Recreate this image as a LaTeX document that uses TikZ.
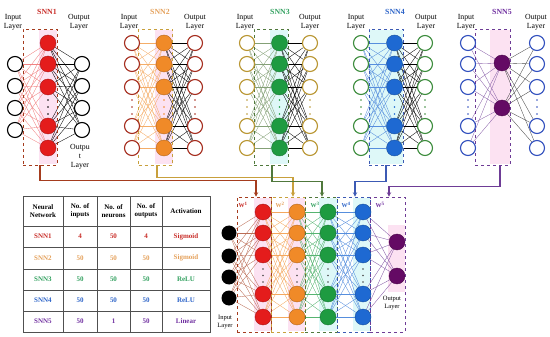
\documentclass[tikz,border=0pt]{standalone}
\usepackage{fontspec}
\setmainfont{Liberation Serif}
\usetikzlibrary{arrows.meta,calc}
\pgfdeclarelayer{wash}
\pgfdeclarelayer{bg}
\pgfsetlayers{wash,bg,main}
\definecolor{cred}{RGB}{228,28,28}
\definecolor{corange}{RGB}{240,138,40}
\definecolor{cgreen}{RGB}{30,155,65}
\definecolor{cblue}{RGB}{30,105,210}
\definecolor{cpurple}{RGB}{100,10,100}
\definecolor{tred}{RGB}{200,45,40}
\definecolor{torange}{RGB}{228,160,90}
\definecolor{tgreen}{RGB}{50,160,95}
\definecolor{tblue}{RGB}{45,100,200}
\definecolor{tpurple}{RGB}{112,48,160}
\definecolor{cbrown}{RGB}{165,45,30}
\definecolor{cgold}{RGB}{185,150,50}
\definecolor{cdgreen}{RGB}{60,140,60}
\definecolor{cnavy}{RGB}{50,80,190}
\definecolor{kone}{RGB}{165,60,30}
\definecolor{ktwo}{RGB}{200,160,60}
\definecolor{kthree}{RGB}{80,120,60}
\definecolor{kfour}{RGB}{60,90,180}
\definecolor{kfive}{RGB}{110,60,150}
\definecolor{tblline}{RGB}{80,80,80}
\definecolor{wpink}{RGB}{252,226,242}
\definecolor{wcyan}{RGB}{222,248,248}
\newcommand\mysnn[8]{%
  \node[netbox=#8, minimum width=34pt, minimum height=136pt] (B#1) at (#3,97) {};
  \foreach \k/\yy in {1/43,2/64,3/87,4/126,5/148}{
    \node[io=#5] (A#1i\k) at (#2,\yy) {};
    \node[hid=#6] (A#1h\k) at (#3+8.5,\yy) {};
    \node[io=#5] (A#1o\k) at (#4,\yy) {};
  }
  \foreach \k/\yy in {1/100,2/107,3/114}{
    \node[dotn=#5] (A#1di\k) at (#2,\yy) {};
    \node[dotn=#6] (A#1dh\k) at (#3+8.5,\yy) {};
    \node[dotn=#5] (A#1do\k) at (#4,\yy) {};
  }
  \begin{pgfonlayer}{bg}
  \foreach \a in {1,...,5}{\foreach \b in {1,...,5}{
    \draw[wire=#7] (A#1i\a) -- (A#1h\b);
    \draw[wire=black] (A#1h\a) -- (A#1o\b);
  }}
  \end{pgfonlayer}
}
\begin{document}
\begin{tikzpicture}[x=1pt,y=-1pt,
  io/.style={circle, draw=#1, line width=1.1pt, fill=white, minimum size=15pt, inner sep=0pt},
  hid/.style={circle, fill=#1, draw=#1!75!black, line width=.4pt, minimum size=16pt, inner sep=0pt},
  dotn/.style={circle, fill=#1, minimum size=1.8pt, inner sep=0pt},
  netbox/.style={draw=#1, dashed, line width=.6pt, inner sep=0pt},
  wire/.style={draw=#1, line width=.35pt},
  conn/.style={draw=#1, line width=1.3pt, -{Stealth[length=4.5pt,width=4.5pt]}},
  lbl/.style={font=\fontsize{7.8}{9}\selectfont, align=center, inner sep=0pt},
  slbl/.style={font=\fontsize{6.5}{8}\selectfont, align=center, inner sep=0pt},
  ttl/.style={font=\bfseries\fontsize{7.8}{9}\selectfont, text=#1, inner sep=0pt},
  wl/.style={font=\bfseries\fontsize{6}{7}\selectfont, text=#1, inner sep=0pt},
  cell/.style={font=\bfseries\fontsize{7}{8.5}\selectfont, text=#1, align=center, inner sep=0pt},
  tbl/.style={draw=tblline, line width=.8pt},
  washp/.style={fill=wpink, draw=none},
  washc/.style={fill=wcyan, draw=none}]
\useasboundingbox (0,0) rectangle (550,337);

% ---------- background washes ----------
\begin{pgfonlayer}{wash}
\fill[washp] (39,30) rectangle (57,164);
\fill[washp] (155,30) rectangle (173,164);
\fill[washc] (270,30) rectangle (288,164);
\fill[washc] (369,30) rectangle (403,164);
\fill[washp] (490,30) rectangle (510,164);
\fill[washp] (254,198) rectangle (271,331);
\fill[washp] (288,198) rectangle (305,331);
\fill[washc] (319,198) rectangle (337,331);
\fill[washc] (353,198) rectangle (370,331);
\fill[washp] (388,225) rectangle (405,292);
\end{pgfonlayer}

% ---------- SNN1 ----------
\node[netbox=kone, minimum width=34pt, minimum height=136pt] (B1) at (40,97) {};
\foreach \k/\yy in {1/64,2/86,3/108,4/130}{
  \node[io=black] (A1i\k) at (15,\yy) {};
  \node[io=black] (A1o\k) at (82,\yy) {};
}
\foreach \k/\yy in {1/43,2/64,3/87,4/126,5/148}{
  \node[hid=cred] (A1h\k) at (48,\yy) {};
}
\foreach \k/\yy in {1/100,2/107,3/114}{
  \node[dotn=black] (A1dh\k) at (48,\yy) {};
}
\begin{pgfonlayer}{bg}
\foreach \a in {1,...,4}{\foreach \b in {1,...,5}{
  \draw[wire=cred!55] (A1i\a) -- (A1h\b);
  \draw[wire=black] (A1h\b) -- (A1o\a);
}}
\end{pgfonlayer}
\node[ttl=tred] (T1) at (47,12) {SNN1};
\node[lbl] (I1) at (13,22.5) {Input\\Layer};
\node[lbl] (O1) at (79,22.5) {Output\\Layer};
\node[lbl] (O1b) at (80,157) {Outpu\\t\\Layer};

% ---------- SNN2 - SNN4 ----------
\mysnn{2}{132}{155.5}{195}{cbrown}{corange}{corange!70}{ktwo}
\node[ttl=torange] (T2) at (160,12) {SNN2};
\node[lbl] (I2) at (129,22.5) {Input\\Layer};
\node[lbl] (O2) at (195,22.5) {Output\\Layer};

\mysnn{3}{247}{271}{310}{cgold}{cgreen}{kthree!70}{kthree}
\node[ttl=tgreen] (T3) at (280,12) {SNN3};
\node[lbl] (I3) at (245,22.5) {Input\\Layer};
\node[lbl] (O3) at (310,22.5) {Output\\Layer};

\mysnn{4}{361}{386}{425}{cdgreen}{cblue}{cblue!75}{kfour}
\node[ttl=tblue] (T4) at (395,12) {SNN4};
\node[lbl] (I4) at (356,22.5) {Input\\Layer};
\node[lbl] (O4) at (426,22.5) {Output\\Layer};

% ---------- SNN5 ----------
\node[netbox=kfive, minimum width=35pt, minimum height=136pt] (B5) at (492.5,97) {};
\foreach \k/\yy in {1/43,2/64,3/87,4/126,5/148}{
  \node[io=cnavy] (A5i\k) at (468,\yy) {};
  \node[io=cnavy] (A5o\k) at (537,\yy) {};
}
\node[hid=cpurple] (A5h1) at (502,63) {};
\node[hid=cpurple] (A5h2) at (502,108) {};
\foreach \k/\yy in {1/100,2/107,3/114}{
  \node[dotn=cnavy] (A5di\k) at (468,\yy) {};
  \node[dotn=cnavy] (A5do\k) at (537,\yy) {};
}
\begin{pgfonlayer}{bg}
\foreach \a in {1,...,5}{\foreach \b in {1,2}{
  \draw[wire=kfive!80] (A5i\a) -- (A5h\b);
  \draw[wire=black!70] (A5h\b) -- (A5o\a);
}}
\end{pgfonlayer}
\node[ttl=tpurple] (T5) at (502,12) {SNN5};
\node[lbl] (I5) at (466,22.5) {Input\\Layer};
\node[lbl] (O5) at (536,22.5) {Output\\Layer};

% ---------- combined network ----------
\node[netbox=kone]   (W1) at (254,264.5)   [minimum width=34pt, minimum height=135pt] {};
\node[netbox=ktwo]   (W2) at (288,264.5)   [minimum width=34pt, minimum height=135pt] {};
\node[netbox=kthree] (W3) at (321,264.5)   [minimum width=32pt, minimum height=135pt] {};
\node[netbox=kfour]  (W4) at (353.5,264.5) [minimum width=33pt, minimum height=135pt] {};
\node[netbox=kfive]  (W5) at (387.5,264.5) [minimum width=35pt, minimum height=135pt] {};
\node[wl=tred]    (L1) at (243,205) {W\textsuperscript{1}};
\node[wl=torange] (L2) at (280,205) {W\textsuperscript{2}};
\node[wl=tgreen]  (L3) at (315,205) {W\textsuperscript{3}};
\node[wl=tblue]   (L4) at (346,205) {W\textsuperscript{4}};
\node[wl=tpurple] (L5) at (380,205) {W\textsuperscript{5}};

\foreach \k/\yy in {1/233,2/256,3/277,4/298}{
  \node[circle, fill=black, minimum size=15pt, inner sep=0pt] (X\k) at (229,\yy) {};
}
\foreach \k/\yy in {1/212,2/233,3/255,4/294,5/317}{
  \node[hid=cred]    (R\k) at (263,\yy) {};
  \node[hid=corange] (G\k) at (297,\yy) {};
  \node[hid=cgreen]  (E\k) at (328,\yy) {};
  \node[hid=cblue]   (U\k) at (363,\yy) {};
}
\foreach \k/\yy in {1/269,2/275.5,3/282}{
  \node[dotn=black!70] (DR\k) at (263,\yy) {};
  \node[dotn=black!70] (DG\k) at (297,\yy) {};
  \node[dotn=black!70] (DE\k) at (328,\yy) {};
  \node[dotn=black!70] (DU\k) at (363,\yy) {};
}
\node[hid=cpurple] (P1) at (397,242) {};
\node[hid=cpurple] (P2) at (397,276) {};
\begin{pgfonlayer}{bg}
\foreach \a in {1,...,4}{\foreach \b in {1,...,5}{
  \draw[wire=kone!75] (X\a) -- (R\b);
}}
\foreach \a in {1,...,5}{\foreach \b in {1,...,5}{
  \draw[wire=corange!75] (R\a) -- (G\b);
  \draw[wire=cgreen!75] (G\a) -- (E\b);
  \draw[wire=cblue!75] (E\a) -- (U\b);
}}
\foreach \a in {1,...,5}{\foreach \b in {1,2}{
  \draw[wire=kfive!85] (U\a) -- (P\b);
}}
\end{pgfonlayer}
\node[slbl] (IL) at (225,322.5) {Input\\Layer};
\node[slbl] (OL) at (392,303.5) {Output\\Layer};

% ---------- connectors ----------
\draw[conn=kone]   (B1.south) -- ++(0,15) -| ($(W1.north)+(2,0)$);
\draw[conn=ktwo]   ($(B2.south)+(1.5,0)$) -- ++(0,12) -| ($(W2.north)+(5,0)$);
\draw[conn=kthree] ($(B3.south)+(1,0)$) -- ++(0,16) -| ($(W3.north)+(1,0)$);
\draw[conn=kfour]  (B4.south) -- ++(0,16) -| ($(W4.north)+(1.5,0)$);
\draw[conn=kfive]  ($(B5.south)+(7.5,0)$) -- ++(0,21) -| ($(W5.north)+(1.5,0)$);

% ---------- table ----------
\draw[tbl] (23,196) rectangle (210,332);
\foreach \xx in {63,97,130,162}{ \draw[tbl] (\xx,196) -- (\xx,332); }
\foreach \yy in {226,247,269,290,311}{ \draw[tbl] (23,\yy) -- (210,\yy); }
\node[cell=black] (H1) at (43,211) {Neural\\Network};
\node[cell=black] (H2) at (80,211) {No. of\\inputs};
\node[cell=black] (H3) at (113.5,211) {No. of\\neurons};
\node[cell=black] (H4) at (146,211) {No. of\\outputs};
\node[cell=black] (H5) at (186,211) {Activation};
\foreach \r/\yy/\c/\nm/\ni/\nn/\no/\act in {
  1/236.5/tred/SNN1/4/50/4/Sigmoid,
  2/258/torange/SNN2/50/50/50/Sigmoid,
  3/279.5/tgreen/SNN3/50/50/50/ReLU,
  4/300.5/tblue/SNN4/50/50/50/ReLU,
  5/321.5/tpurple/SNN5/50/1/50/Linear}{
  \node[cell=\c] (C\r a) at (43,\yy) {\nm};
  \node[cell=\c] (C\r b) at (80,\yy) {\ni};
  \node[cell=\c] (C\r c) at (113.5,\yy) {\nn};
  \node[cell=\c] (C\r d) at (146,\yy) {\no};
  \node[cell=\c] (C\r e) at (186,\yy) {\act};
}
\end{tikzpicture}
\end{document}
